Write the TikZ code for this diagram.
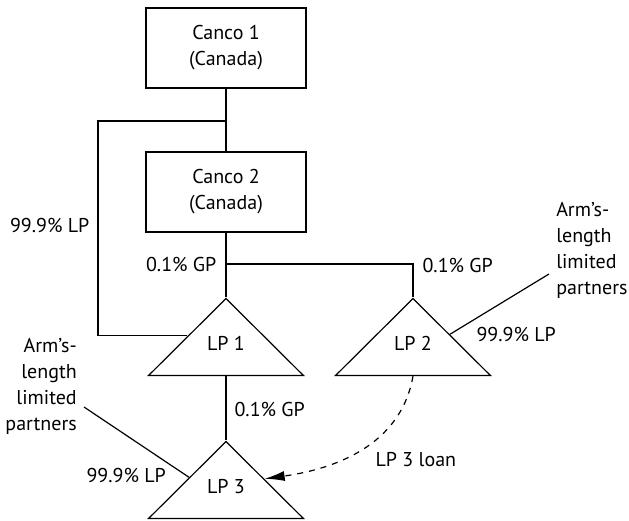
\documentclass[tikz,border=0pt]{standalone}
\usepackage{fontspec}
\setmainfont{PT Sans}
\usetikzlibrary{shapes.geometric,arrows.meta,calc}

\tikzset{
  every node/.style={font=\fontsize{10}{13}\selectfont},
  entity/.style={draw, minimum width=80pt, minimum height=40pt, align=center, inner sep=0pt},
  partnership/.style={draw, isosceles triangle, isosceles triangle stretches,
    shape border rotate=90, minimum width=77.5pt, minimum height=38.5pt,
    inner sep=0pt, text depth=6pt, anchor=apex},
  share/.style={inner sep=1pt},
  loan/.style={dashed, -{Latex[length=10pt,width=5pt]}},
}

\begin{document}
\begin{tikzpicture}[x=0.5pt, y=-0.5pt, line width=0.6pt]
  \useasboundingbox (0,0) rectangle (629,521);

  % corporations
  \node [entity] (canco1) at (226,48) {Canco 1\\(Canada)};
  \node [entity] (canco2) at (226,192) {Canco 2\\(Canada)};

  % partnerships
  \foreach \n/\x/\y in {1/226/297, 2/413/297, 3/226/440}
    \node [partnership] (lp\n) at (\x,\y) {LP \n};

  % outside partners
  \node [align=left, anchor=west] (arm2) at (549,250) {Arm’s-\\length\\limited\\partners};
  \node [align=right, anchor=east] (arm3) at (84,386) {Arm’s-\\length\\limited\\partners};

  % points on the triangle sides
  \coordinate (split) at (226,121);
  \coordinate (lp1in) at ($(lp1.apex)!0.49!(lp1.left corner)$);
  \coordinate (lp2in) at ($(lp2.apex)!0.47!(lp2.right corner)$);
  \coordinate (lp3in) at ($(lp3.apex)!0.47!(lp3.left corner)$);
  \coordinate (lp3loan) at ($(lp3.apex)!0.49!(lp3.right corner)$);
  \coordinate (arm2end) at ([yshift=-12pt]arm2.west);
  \coordinate (arm3end) at ([yshift=-10.5pt]arm3.east);

  % ownership lines
  \draw (canco1) -- (canco2);
  \draw (split) -- ++(-128,0) |- (lp1in);
  \draw (canco2) -- (lp1.apex);
  \draw (canco2.south |- 0,264) -| (lp2.apex);
  \draw (lp1.lower side) -- (lp3.apex);
  \draw (arm2end) -- (lp2in);
  \draw (arm3end) -- (lp3in);
  \draw [loan] (lp2.lower side) to [out=-100, in=8] (lp3loan);

  % percentages
  \node [share, anchor=east] (lp1lp) at (92,225) {99.9\% LP};
  \node [share, anchor=east] (lp1gp) at (219,264) {0.1\% GP};
  \node [share, anchor=west] (lp2gp) at (420,265) {0.1\% GP};
  \node [share, anchor=west] (lp2lp) at (474,334) {99.9\% LP};
  \node [share, anchor=west] (lp3gp) at (232,409) {0.1\% GP};
  \node [share, anchor=west] (lp3lp) at (84,475) {99.9\% LP};
  \node [share, anchor=west] (loanlbl) at (373,460) {LP 3 loan};
\end{tikzpicture}
\end{document}
